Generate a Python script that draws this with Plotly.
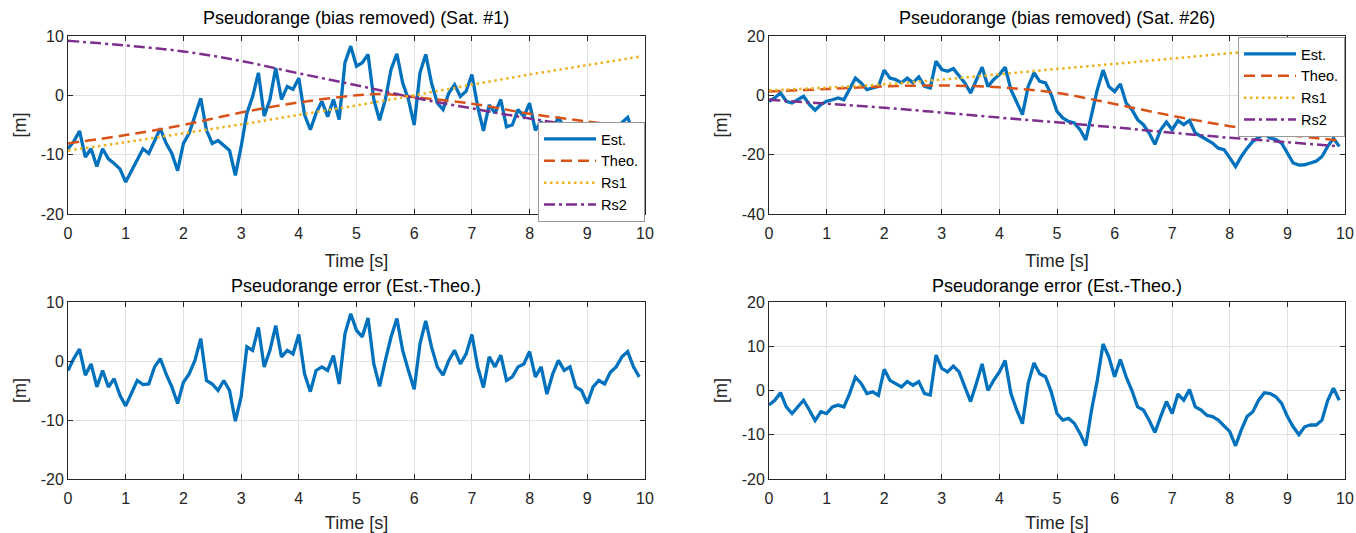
import plotly.graph_objects as go

# ---------------- data ----------------
time = [round(0.1 * i, 1) for i in range(100)]

est1 = [-9.0, -7.8, -6.0, -10.4, -9.0, -12.0, -9.0, -10.7, -11.5, -12.4,
        -14.6, -12.7, -10.7, -9.0, -9.8, -7.6, -5.6, -8.1, -9.8, -12.7,
        -8.1, -6.4, -3.6, -0.5, -5.9, -8.1, -7.6, -8.4, -9.3, -13.5,
        -8.7, -3.0, -0.2, 3.8, -3.5, -0.7, 4.6, -0.7, 1.5, 1.0,
        2.9, -3.3, -5.8, -3.0, -1.0, -3.6, -0.7, -4.1, 5.5, 8.3,
        4.9, 5.5, 6.9, -0.7, -4.2, -0.7, 4.4, 7.0, 2.1, -0.7,
        -5.0, 3.8, 6.9, 2.1, -1.3, -2.4, 0.4, 1.8, -0.2, 0.7,
        3.5, -1.9, -6.0, -1.6, -3.0, -0.7, -5.3, -5.0, -2.4, -3.6,
        -1.3, -5.9, -4.4, -9.1, -5.8, -3.7, -5.5, -5.0, -8.5, -9.3,
        -11.1, -8.9, -7.9, -8.6, -6.8, -6.0, -4.6, -3.7, -6.4, -8.2]

err1 = [-1.6, 0.4, 2.0, -2.4, -0.5, -4.4, -1.6, -4.4, -3.0, -5.8,
        -7.6, -5.6, -3.3, -4.0, -3.9, -1.0, 0.4, -2.2, -4.4, -7.2,
        -3.6, -2.2, 0.1, 3.8, -3.3, -3.9, -5.0, -3.3, -5.0, -10.2,
        -6.1, 2.4, 1.8, 5.7, -1.0, 1.8, 6.0, 0.7, 1.8, 1.2,
        4.5, -2.2, -5.2, -1.6, -1.0, -1.6, 0.9, -3.9, 4.6, 8.0,
        5.2, 4.1, 7.3, -0.5, -4.3, 0.1, 4.1, 7.2, 1.8, -1.6,
        -4.8, 2.9, 6.8, 2.4, -1.0, -2.4, 0.1, 1.8, -0.5, 1.2,
        4.5, -1.0, -4.5, 0.7, -1.0, 1.0, -3.3, -2.7, -1.0, -0.5,
        1.6, -2.7, -1.0, -5.6, -2.2, 0.1, -1.6, -1.0, -4.4, -5.0,
        -7.2, -4.4, -3.3, -3.9, -1.9, -1.0, 0.7, 1.6, -1.0, -2.7]

theo1_t = [0, 1, 2, 3, 4, 5, 5.5, 6, 7, 8, 9, 9.9]
theo1 = [-8.1, -6.7, -5.0, -2.9, -1.2, 0.0, 0.2, -0.3, -1.4, -3.1, -4.4, -5.5]

ref_t = [0, 1, 2, 3, 4, 5, 6, 7, 8, 9, 9.9]
rs1_1 = [-9.3, -7.9, -6.4, -4.9, -3.3, -1.7, 0.0, 1.8, 3.5, 5.1, 6.5]
rs2_1 = [9.2, 8.4, 7.4, 5.8, 3.7, 1.7, -0.4, -2.2, -3.9, -5.4, -6.7]

est2 = [-2.0, -0.9, 0.8, -2.0, -2.6, -1.5, -0.3, -3.1, -5.0, -3.1,
        -2.0, -1.5, -0.9, -1.5, 1.9, 5.8, 4.2, 1.9, 2.5, 3.0,
        8.5, 5.8, 5.3, 4.2, 5.8, 4.2, 6.2, 3.0, 2.5, 11.5,
        8.7, 8.1, 9.0, 6.4, 4.2, 0.8, 5.3, 9.5, 3.0, 5.3,
        7.0, 9.5, 1.9, -2.6, -6.5, 3.0, 7.6, 4.7, 4.2, 0.2,
        -5.4, -7.6, -8.8, -9.3, -11.6, -15.0, -6.0, 1.9, 8.5, 3.0,
        1.3, 3.8, -2.6, -4.8, -8.2, -9.9, -12.7, -16.5, -11.6, -9.0,
        -11.6, -8.5, -9.9, -8.5, -12.7, -13.8, -14.9, -16.1, -17.8, -18.3,
        -21.1, -24.0, -20.6, -17.8, -15.5, -14.4, -13.0, -14.4, -14.9, -16.1,
        -19.4, -22.8, -23.5, -23.4, -22.8, -22.2, -20.6, -17.2, -14.5, -17.2]

err2 = [-3.3, -2.2, -0.5, -3.7, -5.2, -3.7, -2.2, -4.4, -6.8, -4.8,
        -5.2, -3.7, -3.3, -3.7, -0.7, 3.0, 1.6, -0.7, -0.3, -1.1,
        4.8, 2.3, 1.6, 0.8, 2.0, 1.2, 2.0, -0.7, -1.0, 8.0,
        5.0, 4.2, 5.5, 4.2, 0.8, -2.5, 1.6, 6.0, 0.0, 2.3,
        4.2, 6.8, -0.7, -4.4, -7.5, 1.6, 6.2, 3.8, 3.1, -0.3,
        -5.2, -6.7, -6.3, -7.4, -9.7, -12.5, -4.4, 2.3, 10.5, 7.6,
        3.1, 7.0, 3.1, 0.0, -3.7, -4.4, -6.7, -9.5, -5.9, -2.5,
        -5.2, -0.8, -2.2, 0.2, -3.7, -4.4, -5.6, -5.9, -6.7, -7.9,
        -9.3, -12.5, -8.9, -5.9, -4.8, -2.2, -0.5, -0.7, -1.4, -2.9,
        -5.9, -8.2, -10.0, -8.2, -7.8, -7.8, -6.7, -2.2, 0.5, -2.2]

theo2 = [1.3, 2.1, 3.0, 3.3, 2.7, 0.8, -2.9, -6.9, -10.4, -13.3, -15.2]
rs1_2 = [1.7, 2.6, 3.7, 5.3, 7.1, 8.9, 10.6, 12.4, 14.2, 16.0, 17.6]
rs2_2 = [-1.5, -2.8, -4.2, -5.8, -7.5, -9.1, -10.8, -12.6, -14.3, -15.8, -17.2]

x_ticks = list(range(11))
yt_tl = [-20, -10, 0, 10]
yt_tr = [-40, -20, 0, 20]
yt_bl = [-20, -10, 0, 10]
yt_br = [-20, -10, 0, 10, 20]

titles = ["Pseudorange (bias removed) (Sat. #1)", "Pseudorange (bias removed) (Sat. #26)",
          "Pseudorange error (Est.-Theo.)", "Pseudorange error (Est.-Theo.)"]

# ---------------- style ----------------
FONT = "Liberation Sans, Arial, sans-serif"
C_EST = "#0072BD"
C_THEO = "#D95319"
C_RS1 = "#EDB120"
C_RS2 = "#7E2F8E"
AX = "#262626"
GRID = "#e2e2e2"
W = 1356
H = 533

def px_x(a, b):
    return [a / W, b / W]

def px_y(top, bottom):
    return [(H - bottom) / H, (H - top) / H]

dom_x = [px_x(68, 645), px_x(769, 1345)]
dom_y = [px_y(36, 214), px_y(302, 479)]

fig = go.Figure()

EST_W = 3.3

def add_line(x, y, color, dash, name, xa, ya, legend, show, shape="linear", width=2.5):
    fig.add_trace(go.Scatter(
        x=x, y=y, mode="lines", name=name,
        line=dict(color=color, width=width, dash=dash, shape=shape),
        xaxis=xa, yaxis=ya, legend=legend, showlegend=show, hoverinfo="skip"))

# top-left
add_line(time, est1, C_EST, "solid", "Est.", "x", "y", "legend", True, width=EST_W)
add_line(theo1_t, theo1, C_THEO, "11px,6px", "Theo.", "x", "y", "legend", True, "spline")
add_line(ref_t, rs1_1, C_RS1, "2.5px,3.5px", "Rs1", "x", "y", "legend", True, "spline")
add_line(ref_t, rs2_1, C_RS2, "11px,4px,3px,4px", "Rs2", "x", "y", "legend", True, "spline")
# top-right
add_line(time, est2, C_EST, "solid", "Est.", "x2", "y2", "legend2", True, width=EST_W)
add_line(ref_t, theo2, C_THEO, "11px,6px", "Theo.", "x2", "y2", "legend2", True, "spline")
add_line(ref_t, rs1_2, C_RS1, "2.5px,3.5px", "Rs1", "x2", "y2", "legend2", True, "spline")
add_line(ref_t, rs2_2, C_RS2, "11px,4px,3px,4px", "Rs2", "x2", "y2", "legend2", True, "spline")
# bottom
add_line(time, err1, C_EST, "solid", "err1", "x3", "y3", "legend", False, width=EST_W)
add_line(time, err2, C_EST, "solid", "err2", "x4", "y4", "legend", False, width=EST_W)

def xaxis(domain, anchor):
    return dict(domain=domain, anchor=anchor, range=[0, 10], tickvals=x_ticks,
                ticktext=[str(v) for v in x_ticks],
                showgrid=True, gridcolor=GRID, gridwidth=1, zeroline=False,
                showline=True, linecolor=AX, linewidth=1, mirror="allticks",
                ticks="inside", ticklen=5, tickcolor=AX, tickwidth=1,
                ticklabelstandoff=5,
                tickfont=dict(family=FONT, size=16, color=AX),
                title=dict(text="Time [s]", font=dict(family=FONT, size=18, color=AX), standoff=13),
                automargin=False, fixedrange=True)

def yaxis(domain, anchor, rng, tv):
    return dict(domain=domain, anchor=anchor, range=rng, tickvals=tv,
                ticktext=[str(v) for v in tv],
                showgrid=True, gridcolor=GRID, gridwidth=1, zeroline=False,
                showline=True, linecolor=AX, linewidth=1, mirror="allticks",
                ticks="inside", ticklen=5, tickcolor=AX, tickwidth=1,
                tickfont=dict(family=FONT, size=16, color=AX),
                title=dict(text="[m]", font=dict(family=FONT, size=18, color=AX), standoff=9),
                automargin=False, fixedrange=True)

legend_common = dict(bgcolor="white", bordercolor="#9a9a9a", borderwidth=1,
                     font=dict(family=FONT, size=14.5, color="black"),
                     itemwidth=52, tracegroupgap=0, xanchor="right", yanchor="top",
                     itemclick=False, itemdoubleclick=False)

ann = []
centers = [(356.5, 18), (1057, 18), (356.5, 286), (1057, 286)]
for (cx, cy), txt in zip(centers, titles):
    ann.append(dict(text=txt, x=cx / W, y=(H - cy) / H, xref="paper", yref="paper",
                    xanchor="center", yanchor="middle", showarrow=False,
                    font=dict(family=FONT, size=18, color="black")))

fig.update_layout(
    width=W, height=H, margin=dict(l=0, r=0, t=0, b=0),
    paper_bgcolor="white", plot_bgcolor="white",
    xaxis=xaxis(dom_x[0], "y"), yaxis=yaxis(dom_y[0], "x", [-20, 10], yt_tl),
    xaxis2=xaxis(dom_x[1], "y2"), yaxis2=yaxis(dom_y[0], "x2", [-40, 20], yt_tr),
    xaxis3=xaxis(dom_x[0], "y3"), yaxis3=yaxis(dom_y[1], "x3", [-20, 10], yt_bl),
    xaxis4=xaxis(dom_x[1], "y4"), yaxis4=yaxis(dom_y[1], "x4", [-20, 20], yt_br),
    legend=dict(x=645 / W, y=(H - 122) / H, **legend_common),
    legend2=dict(x=1345 / W, y=(H - 37) / H, **legend_common),
    annotations=ann,
    showlegend=True,
)

fig.write_html("out.html", config={"displayModeBar": False, "responsive": False})
